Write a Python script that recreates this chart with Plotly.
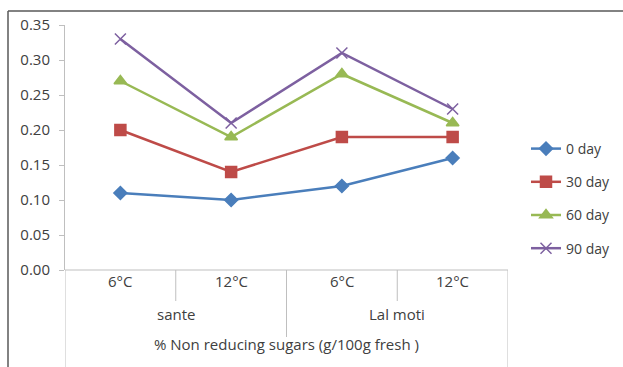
import plotly.graph_objects as go

sub_labels = ["6°C", "12°C", "6°C", "12°C"]
group_labels = ["sante", "Lal moti"]
axis_title = "% Non reducing sugars (g/100g fresh )"
series_names = ["0 day", "30 day", "60 day", "90 day"]
day0 = [0.11, 0.10, 0.12, 0.16]
day30 = [0.20, 0.14, 0.19, 0.19]
day60 = [0.27, 0.19, 0.28, 0.21]
day90 = [0.33, 0.21, 0.31, 0.23]
y_ticks = [0.00, 0.05, 0.10, 0.15, 0.20, 0.25, 0.30, 0.35]

colors = ["#4A7EBB", "#BE4B48", "#98B954", "#7D60A0"]
symbols = ["diamond", "square", "triangle-up", "x-thin"]
sizes = [10, 11, 11, 11]

W, H = 623, 367
L, R, T, B = 65, 115, 25, 97
pw, ph = W - L - R, H - T - B
FS = 15
TC = "#404040"
FAM = "Open Sans, Noto Sans, sans-serif"

def py(pix):
    return (H - B - pix) / ph

def px(pix):
    return (pix - L) / pw

xs = list(range(len(sub_labels)))
fig = go.Figure()
for name, vals, c, s, sz in zip(series_names, [day0, day30, day60, day90], colors, symbols, sizes):
    fig.add_trace(go.Scatter(
        x=xs, y=vals, name=name, mode="lines+markers", legendgroup=name,
        line=dict(color=c, width=2.5),
        marker=dict(symbol=s, size=sz, color=c, line=dict(color=c, width=1.5)),
    ))

font = dict(family=FAM, size=FS, color=TC)
fig.update_layout(
    width=W, height=H, margin=dict(l=L, r=R, t=T, b=B, autoexpand=False),
    paper_bgcolor="white", plot_bgcolor="white", font=font,
    showlegend=True,
    legend=dict(x=px(526), y=py(133), xanchor="left", yanchor="top",
                font=dict(size=14, color=TC, family=FAM), tracegroupgap=12,
                itemwidth=30, bgcolor="rgba(0,0,0,0)"),
    xaxis=dict(range=[-0.5, 3.5], showticklabels=False, showgrid=False,
               zeroline=False, showline=False, ticks=""),
    yaxis=dict(range=[0, 0.35], tickvals=y_ticks, tickformat=".2f",
               showgrid=False, zeroline=False, showline=True, linecolor="#BFBFBF",
               linewidth=1, ticks="outside", ticklen=5, tickcolor="#BFBFBF",
               ticklabelstandoff=6,
               tickfont=dict(size=FS, color=TC, family=FAM)),
)

gray = dict(color="#BFBFBF", width=1)
shapes = []
shapes.append(dict(type="line", xref="x", yref="paper", x0=-0.5, x1=3.5, y0=0, y1=0, line=gray))
shapes.append(dict(type="line", xref="x", yref="paper", x0=-0.5, x1=-0.5, y0=0, y1=py(H + 5), line=gray))
shapes.append(dict(type="line", xref="x", yref="paper", x0=3.5, x1=3.5, y0=0, y1=py(H + 5), line=gray))
shapes.append(dict(type="line", xref="x", yref="paper", x0=1.5, x1=1.5, y0=0, y1=py(337), line=gray))
for xv in [0.5, 2.5]:
    shapes.append(dict(type="line", xref="x", yref="paper", x0=xv, x1=xv, y0=0, y1=py(301), line=gray))
frame = dict(color="#595959", width=1.5)
shapes.append(dict(type="line", xref="paper", yref="paper", x0=px(8), x1=px(W + 5), y0=py(11), y1=py(11), line=frame))
shapes.append(dict(type="line", xref="paper", yref="paper", x0=px(8), x1=px(8), y0=py(11), y1=py(H + 5), line=frame))
fig.update_layout(shapes=shapes)

ann = []
for i, lab in enumerate(sub_labels):
    ann.append(dict(x=i, y=py(293), xref="x", yref="paper", text=lab, showarrow=False,
                    font=dict(size=FS, color=TC, family=FAM)))
for j, lab in enumerate(group_labels):
    ann.append(dict(x=0.5 + 2 * j, y=py(326), xref="x", yref="paper", text=lab, showarrow=False,
                    font=dict(size=FS, color=TC, family=FAM)))
ann.append(dict(x=1.5, y=py(356), xref="x", yref="paper", text=axis_title, showarrow=False,
                font=dict(size=FS, color=TC, family=FAM)))
fig.update_layout(annotations=ann)

fig.write_html("out.html")
